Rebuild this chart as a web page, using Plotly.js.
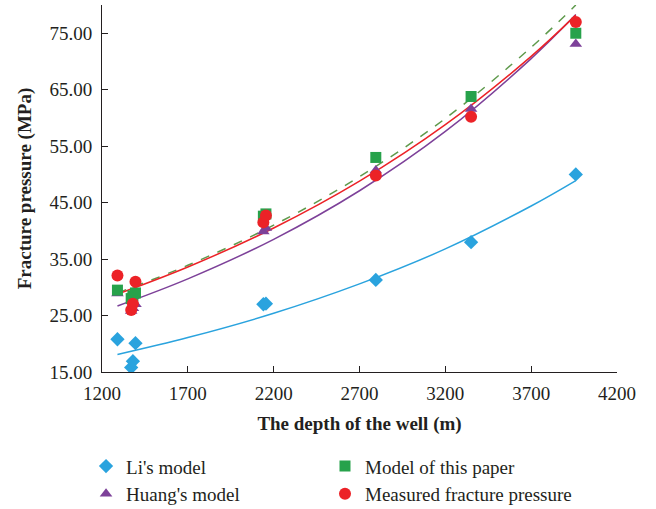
<!DOCTYPE html>
<html>
<head>
<meta charset="utf-8">
<script src="https://cdn.plot.ly/plotly-3.0.1.min.js"></script>
<style>html,body{margin:0;padding:0;background:#fff;}#chart{width:656px;height:509px;}</style>
</head>
<body>
<div id="chart"></div>
<script>
// Point depths (m)
const depth = [1290, 1370, 1380, 1395, 2140, 2155, 2795, 3350, 3960];
// Series values (MPa)
const liModel      = [20.8, 15.8, 16.9, 20.1, 27.0, 27.1, 31.3, 38.0, 50.0];
const huangModel   = [28.9, 25.8, 26.3, 27.0, 39.9, 40.5, 50.7, 61.6, 73.1];
const paperModel   = [29.5, 28.0, 28.5, 29.0, 42.6, 43.0, 53.0, 63.8, 75.0];
const measured     = [32.1, 26.0, 27.1, 31.0, 41.5, 42.7, 49.8, 60.2, 77.0];

// Trend lines at these depths
const trendDepth   = [1290, 1700, 2200, 2700, 3200, 3700, 3960];
const liTrend      = [18.1, 21.1, 25.4, 30.6, 36.8, 44.4, 48.9];
const huangTrend   = [26.7, 31.5, 38.5, 47.1, 57.6, 70.5, 78.3];
const paperTrend   = [29.0, 33.9, 41.0, 49.6, 59.9, 72.5, 80.0];
const measTrend    = [28.8, 33.6, 40.5, 48.8, 58.8, 70.9, 78.2];

const xTicks = [1200, 1700, 2200, 2700, 3200, 3700, 4200];
const yTicks = [15, 25, 35, 45, 55, 65, 75];

const cBlue = '#2aa3de', cPurple = '#7d4199', cGreen = '#27a24b', cRed = '#ec2227', cDash = '#5f9a4c';
const font = 'Liberation Serif, Times New Roman, serif';

const lineTrace = (y, color, dash) => ({
  x: trendDepth, y: y, mode: 'lines', type: 'scatter', showlegend: false, hoverinfo: 'skip',
  line: {color: color, width: 1.5, dash: dash || 'solid', shape: 'spline'}
});

const data = [
  lineTrace(liTrend, cBlue),
  lineTrace(huangTrend, cPurple),
  lineTrace(paperTrend, cDash, 'dash'),
  lineTrace(measTrend, cRed),
  {x: depth, y: liModel, name: "Li's model", mode: 'markers', type: 'scatter', legend: 'legend',
   marker: {symbol: 'diamond', size: 11, color: cBlue}},
  {x: depth, y: huangModel, name: "Huang's model", mode: 'markers', type: 'scatter', legend: 'legend',
   marker: {symbol: 'triangle-up', size: 11, color: cPurple}},
  {x: depth, y: paperModel, name: 'Model of this paper', mode: 'markers', type: 'scatter', legend: 'legend2',
   marker: {symbol: 'square', size: 11, color: cGreen}},
  {x: depth, y: measured, name: 'Measured fracture pressure', mode: 'markers', type: 'scatter', legend: 'legend2',
   marker: {symbol: 'circle', size: 12, color: cRed}}
];

const legendBase = {
  orientation: 'v', xanchor: 'left', y: -0.205, yanchor: 'top',
  font: {family: font, size: 19, color: '#231f20'}, bgcolor: 'rgba(0,0,0,0)', tracegroupgap: 0
};

const layout = {
  width: 656, height: 509,
  margin: {l: 102, r: 39, t: 5, b: 137, autoexpand: false},
  paper_bgcolor: '#fff', plot_bgcolor: '#fff',
  font: {family: font, size: 19, color: '#231f20'},
  xaxis: {
    range: [1200, 4200], tickvals: xTicks, ticktext: xTicks.map(String),
    showgrid: false, zeroline: false, showline: true, linecolor: '#231f20', linewidth: 1,
    ticks: 'inside', ticklen: 6, tickcolor: '#231f20', ticklabelstandoff: 4,
    tickfont: {family: font, size: 19},
    title: {text: '<b>The depth of the well (m)</b>', font: {family: font, size: 19}, standoff: 13}
  },
  yaxis: {
    range: [15, 80], tickvals: yTicks, ticktext: yTicks.map(v => v.toFixed(2)),
    showgrid: false, zeroline: false, showline: true, linecolor: '#231f20', linewidth: 1,
    ticks: 'inside', ticklen: 6, tickcolor: '#231f20', ticklabelstandoff: 5,
    tickfont: {family: font, size: 19},
    title: {text: '<b>Fracture pressure (MPa)</b>', font: {family: font, size: 19}, standoff: 12}
  },
  showlegend: true,
  legend: Object.assign({}, legendBase, {x: -0.031}),
  legend2: Object.assign({}, legendBase, {x: 0.433})
};

Plotly.newPlot('chart', data, layout, {displayModeBar: false, staticPlot: true});
</script>
</body>
</html>
